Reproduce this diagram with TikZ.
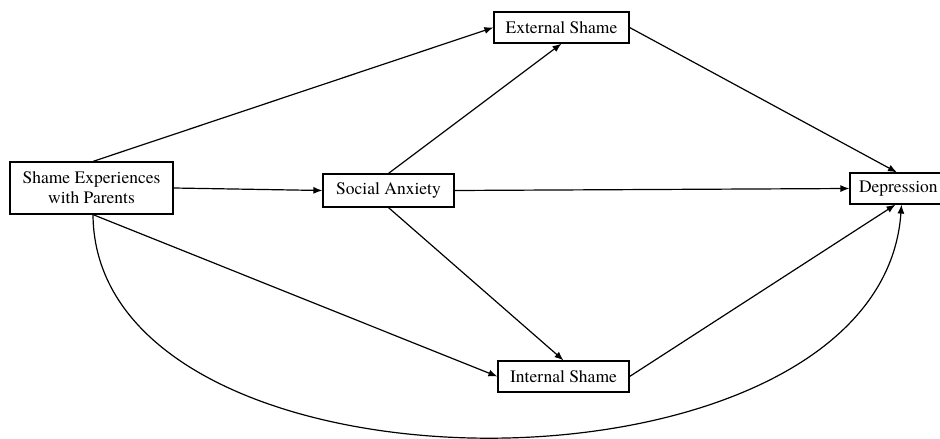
\documentclass[tikz,border=0pt]{standalone}
\usepackage{fontspec}
\setmainfont{TeX Gyre Termes}
\usetikzlibrary{arrows.meta}
\begin{document}
\begin{tikzpicture}[x=1pt,y=-1pt,
  box/.style={draw,line width=1.2pt,rectangle,inner sep=0pt,align=center,
    font=\fontsize{17.5}{20}\selectfont},
  link/.style={line width=1.2pt,-{Latex[length=9pt,width=7pt]}}]
\useasboundingbox (0,0) rectangle (940,439);
\node[box,minimum width=163pt,minimum height=52pt] (shame) at (91.5,188) {Shame Experiences\\with Parents};
\node[box,minimum width=131pt,minimum height=33pt] (soc) at (388.5,190.5) {Social Anxiety};
\node[box,minimum width=135pt,minimum height=31pt] (ext) at (561.5,27.5) {External Shame};
\node[box,minimum width=131pt,minimum height=31pt] (int) at (563.5,376.5) {Internal Shame};
\node[box,minimum width=97pt,minimum height=31pt,text width=79pt,align=left] (dep) at (898.5,188.5) {Depression};
\draw[link] ([xshift=1.5]shame.north) -- (ext.west);
\draw[link] (shame.east) -- (soc.west);
\draw[link] ([xshift=1.5]shame.south) -- (int.west);
\draw[link] ([xshift=1.5]shame.south) .. controls (95,513) and (880,513) .. ([xshift=3]dep.south);
\draw[link] (soc.north) -- (ext.south);
\draw[link] (soc.east) -- (dep.west);
\draw[link] (soc.south) -- (int.north);
\draw[link] (ext.east) -- ([xshift=-1.5]dep.north);
\draw[link] (int.east) -- ([xshift=-3]dep.south);
\end{tikzpicture}
\end{document}
